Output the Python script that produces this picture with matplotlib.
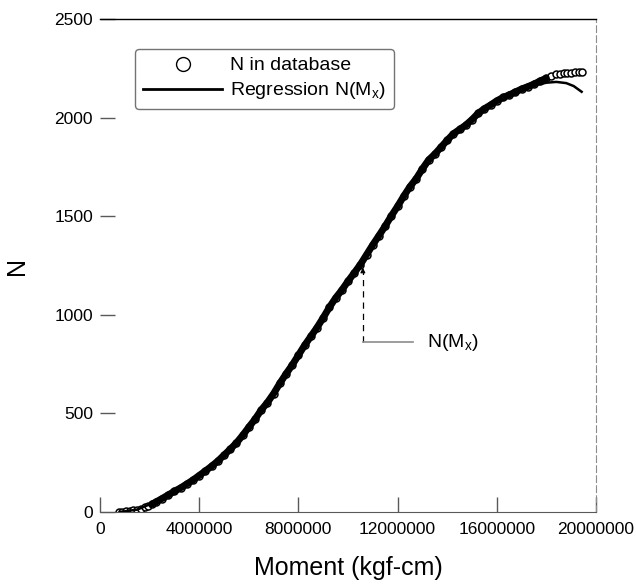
import matplotlib
matplotlib.use('Agg')
import matplotlib.pyplot as plt
import numpy as np
from matplotlib.lines import Line2D

plt.rcParams['font.family'] = ['Liberation Sans', 'DejaVu Sans']

# N in database, moment in kgf-cm (millions) vs N
db_moment = [0.75, 0.9, 1.05, 1.2, 1.35, 1.5, 1.65, 1.8, 1.95, 2.1, 2.25, 2.5,
             2.75, 3.0, 3.25, 3.5, 3.75, 4.0, 4.25, 4.5, 4.75, 5.0, 5.25, 5.5,
             5.75, 6.0, 6.25, 6.5, 6.75, 7.0, 7.25, 7.5, 7.75, 8.0, 8.25, 8.5,
             8.75, 9.0, 9.25, 9.5, 9.75, 10.0, 10.25, 10.5, 10.75, 11.0, 11.25,
             11.5, 11.75, 12.0, 12.25, 12.5, 12.75, 13.0, 13.25, 13.5, 13.75,
             14.0, 14.25, 14.5, 14.75, 15.0, 15.25, 15.5, 15.75, 16.0, 16.25,
             16.5, 16.75, 17.0, 17.25, 17.5, 17.75, 18.0, 18.2, 18.4, 18.55,
             18.7, 18.85, 19.0, 19.15, 19.3, 19.45]
db_n = [0, 1, 3, 5, 8, 12, 17, 24, 32, 40, 50, 68,
        86, 105, 122, 142, 162, 185, 208, 232, 258, 288, 318, 350,
        388, 430, 470, 517, 555, 600, 652, 700, 745, 795, 845, 890,
        935, 985, 1038, 1085, 1125, 1170, 1212, 1255, 1305, 1355, 1402,
        1450, 1502, 1550, 1602, 1650, 1690, 1740, 1785, 1815, 1850,
        1885, 1918, 1940, 1962, 1990, 2022, 2045, 2064, 2085, 2102,
        2115, 2130, 2145, 2157, 2170, 2186, 2200, 2212, 2220, 2222,
        2224, 2226, 2227, 2229, 2231, 2233]

# Regression N(Mx)
reg_moment = [0.8, 1.5, 2.5, 3.5, 4.5, 5.5, 6.5, 7.5, 8.5, 9.5, 10.5, 11.5,
              12.5, 13.5, 14.5, 15.5, 16.5, 17.0, 17.5, 18.0, 18.4, 18.8,
              19.1, 19.42]
reg_n = [0, 12, 65, 140, 235, 355, 510, 695, 890, 1080, 1265, 1455,
         1640, 1810, 1945, 2045, 2115, 2143, 2163, 2177, 2181, 2175,
         2160, 2131]

x_ticks = [0, 4000000, 8000000, 12000000, 16000000, 20000000]
x_tick_labels = ['0', '4000000', '8000000', '12000000', '16000000', '20000000']
y_ticks = [0, 500, 1000, 1500, 2000, 2500]

db_x = np.array(db_moment) * 1e6
db_y = np.array(db_n)
reg_x = np.array(reg_moment) * 1e6

fig = plt.figure(figsize=(6.36, 5.87), dpi=100)
ax = fig.add_axes([0.1572, 0.1278, 0.7799, 0.8398])

# circles; where they pile up they read as a solid band
ax.plot(db_x, db_y, 'o', ms=5, mfc='white', mec='black', mew=1.1, zorder=2)
dense = (db_x >= 2.0e6) & (db_x <= 18.0e6)
ax.plot(db_x[dense], db_y[dense], '-', color='black', lw=5, solid_capstyle='round', zorder=3)
ax.plot(reg_x, reg_n, '-', color='black', lw=1.8, zorder=4)

# N(Mx) pointer
ax.plot([10.6e6, 10.6e6], [862, 1215], color='black', lw=0.9, ls=(0, (5, 4)), zorder=5)
ax.plot([10.6e6, 12.62e6], [862, 862], color='0.55', lw=1.2, zorder=5)
ax.annotate('', xy=(10.6e6, 1253), xytext=(10.6e6, 1212),
            arrowprops=dict(arrowstyle='-|>', color='black', lw=0.8, mutation_scale=7))
ax.text(13.2e6, 862, r'N(M$_\mathregular{x}$)', fontsize=14, va='center', ha='left')

ax.set_xlim(0, 20000000)
ax.set_ylim(0, 2500)
ax.set_xticks(x_ticks)
ax.set_xticklabels(x_tick_labels)
ax.set_yticks(y_ticks)
ax.tick_params(axis='both', direction='in', length=11, width=1, color='0.35', labelsize=12.5)
ax.tick_params(axis='x', pad=7)
ax.tick_params(axis='y', pad=5)

ax.spines['left'].set_visible(False)
ax.spines['top'].set_color('black')
ax.spines['top'].set_linewidth(1)
ax.spines['right'].set_color('0.55')
ax.spines['right'].set_linestyle((0, (6, 3)))
ax.spines['bottom'].set_color('0.35')

ax.set_xlabel('Moment (kgf-cm)', fontsize=18, labelpad=14)
ax.set_ylabel('N', fontsize=18, labelpad=18)

handles = [Line2D([], [], ls='none', marker='o', ms=10, mfc='white', mec='black', mew=1),
           Line2D([], [], color='black', lw=2)]
labels = ['N in database', r'Regression N(M$_\mathregular{x}$)']
leg = ax.legend(handles, labels, loc='upper left', bbox_to_anchor=(0.0706, 0.939),
                borderaxespad=0, fontsize=14, handlelength=4.1, handletextpad=0.4,
                labelspacing=0.3, borderpad=0.4, fancybox=True, framealpha=1)
leg.get_frame().set_edgecolor('0.45')
leg.get_frame().set_linewidth(1)

plt.savefig('out.png', dpi=100)
